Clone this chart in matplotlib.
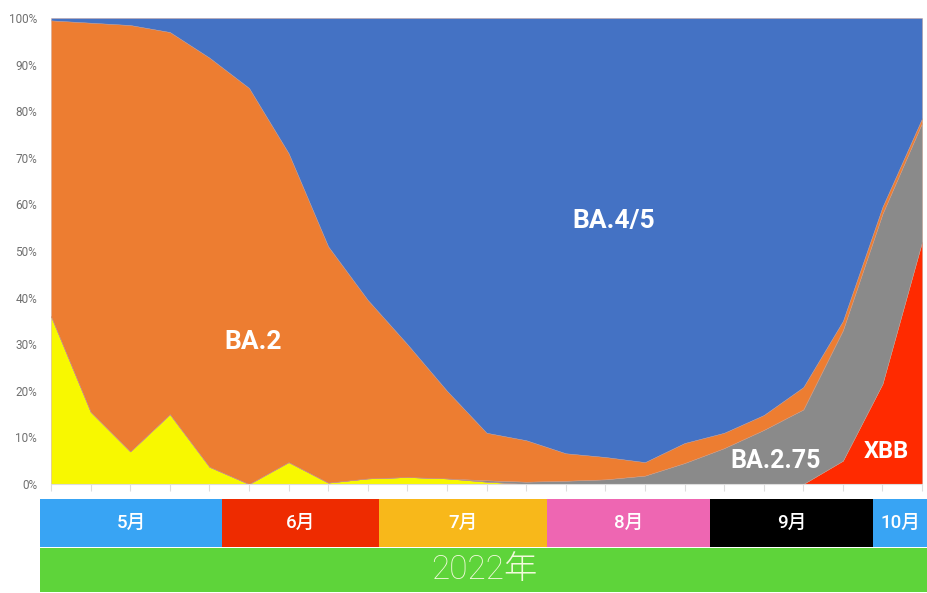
import numpy as np
import matplotlib
matplotlib.use("Agg")
import matplotlib.pyplot as plt
from matplotlib.ticker import FuncFormatter

plt.rcParams['font.family'] = ['Roboto', 'Noto Sans CJK JP', 'DejaVu Sans']

# weekly share of each lineage (%), May -> mid October 2022
weeks = np.arange(23)
ba1 = [36, 15.5, 7, 15, 3.7, 0, 4.7, 0.3, 1.2, 1.5, 1.2, 0.5,
       0, 0, 0, 0, 0, 0, 0, 0, 0, 0, 0]
xbb = [0, 0, 0, 0, 0, 0, 0, 0, 0, 0, 0, 0,
       0, 0, 0, 0, 0, 0, 0, 0, 5, 21.5, 52]
ba275 = [0, 0, 0, 0, 0, 0, 0, 0, 0, 0, 0, 0.3,
         0.5, 0.7, 1.0, 1.8, 4.5, 7.7, 11.6, 16, 28, 36.5, 25.5]
ba2 = [63.5, 83.5, 91.5, 82, 87.8, 85, 66.3, 50.7, 38.3, 28.5, 18.8, 10.2,
       8.9, 5.9, 4.8, 2.9, 4.3, 3.3, 3.2, 4.8, 2, 1.5, 1.0]
ba45 = [0.5, 1, 1.5, 3, 8.5, 15, 29, 49, 60.5, 70, 80, 89,
        90.6, 93.4, 94.2, 95.3, 91.2, 89, 85.2, 79.2, 65, 40.5, 21.5]

yticks = [0, 10, 20, 30, 40, 50, 60, 70, 80, 90, 100]

months = ['5月', '6月', '7月', '8月', '9月', '10月']
month_colors = ['#38a4f4', '#ee2b00', '#f8b81a', '#ee66b2', '#000000', '#38a4f4']
month_edges = [0.0, 0.205, 0.382, 0.571, 0.755, 0.938, 1.0]
year_label = '2022年'

fig = plt.figure(figsize=(9.28, 5.93), dpi=100)

ax = fig.add_axes([0.0550, 0.1838, 0.9386, 0.7858])
ax.stackplot(weeks, ba1, xbb, ba275, ba2, ba45,
             colors=['#f8f800', '#ff2a00', '#8a8a8a', '#ed7d31', '#4472c4'],
             edgecolor='#c89a8a', linewidth=0.3)
ax.set_xlim(0, 22)
ax.set_ylim(0, 100)
ax.set_yticks(yticks)
ax.yaxis.set_major_formatter(FuncFormatter(lambda v, p: '{:d}%'.format(int(v))))
ax.set_xticks(weeks)
ax.set_xticklabels([])
ax.tick_params(axis='y', length=0, labelsize=8.5, labelcolor='#707070', pad=10)
ax.tick_params(axis='x', length=5, color='#dddddd', width=0.8)
for side in ['left', 'right', 'top']:
    ax.spines[side].set_visible(False)
ax.spines['bottom'].set_color('#dddddd')

label_kw = dict(color='white', fontweight='bold', ha='center', va='center')
ax.text(14.2, 56.5, 'BA.4/5', fontsize=19, **label_kw)
ax.text(5.1, 30.5, 'BA.2', fontsize=19, **label_kw)
ax.text(18.3, 5, 'BA.2.75', fontsize=18, **label_kw)
ax.text(21.1, 7, 'XBB', fontsize=17, **label_kw)

# month band
bx = fig.add_axes([0.0431, 0.0776, 0.9569, 0.0810])
for i, m in enumerate(months):
    x0, x1 = month_edges[i], month_edges[i + 1]
    bx.axvspan(x0, x1, color=month_colors[i], lw=0)
    bx.text((x0 + x1) / 2, 0.5, m, color='white', fontsize=13.5,
            fontweight='medium', ha='center', va='center')
bx.set_xlim(0, 1)
bx.set_ylim(0, 1)
bx.axis('off')

# year band
gx = fig.add_axes([0.0431, 0.0017, 0.9569, 0.0742])
gx.axvspan(0, 1, color='#5ed43a', lw=0)
gx.text(0.5, 0.5, year_label, color='#f2fadc', fontsize=24, fontweight='light',
        ha='center', va='center')
gx.set_xlim(0, 1)
gx.set_ylim(0, 1)
gx.axis('off')

fig.savefig('out.png', dpi=100)
